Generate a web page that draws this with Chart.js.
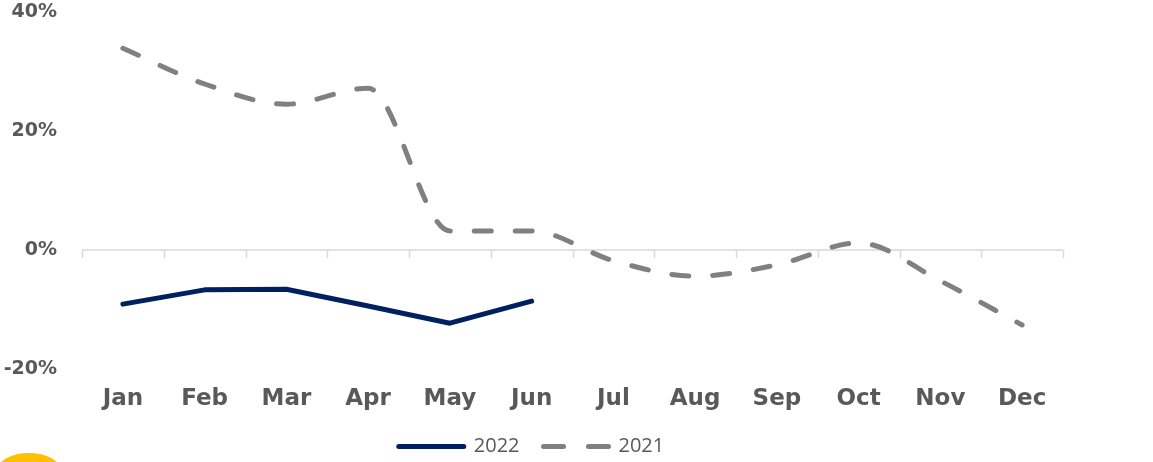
<!DOCTYPE html>
<html>
<head>
<meta charset="utf-8">
<script src="https://cdn.jsdelivr.net/npm/chart.js@4/dist/chart.umd.min.js"></script>
<style>
  html, body { margin: 0; padding: 0; background: #fff; }
  #contenedor { width: 1153px; height: 462px; position: relative; }
</style>
</head>
<body>
<div id="contenedor"><canvas id="lineaVariacion"></canvas></div>
<script>
// Variación interanual por mes (%)
var meses = ['Jan', 'Feb', 'Mar', 'Apr', 'May', 'Jun', 'Jul', 'Aug', 'Sep', 'Oct', 'Nov', 'Dec'];
var serie2022 = [-9.1, -6.7, -6.6, -9.4, -12.3, -8.6];
var serie2021 = [33.9, 27.9, 24.5, 27.2, 3.2, 3.2, -1.8, -4.4, -2.5, 1.2, -5.2, -12.6];
var ticksEje = [-20, 0, 20, 40];

var gris = '#595959';

// linea del cero con marcas entre meses
var lineaCero = {
    id: 'lineaCero',
    beforeDatasetsDraw: function(chart) {
        var ctx = chart.ctx;
        var x = chart.scales.x;
        var y0 = chart.scales.y.getPixelForValue(0);
        var paso = (x.right - x.left) / meses.length;
        ctx.save();
        ctx.strokeStyle = '#d9d9d9';
        ctx.lineWidth = 1.5;
        ctx.beginPath();
        ctx.moveTo(x.left, y0);
        ctx.lineTo(x.right, y0);
        for (var i = 0; i <= meses.length; i++) {
            var px = Math.round(x.left + i * paso) + 0.5;
            ctx.moveTo(px, y0);
            ctx.lineTo(px, y0 + 8);
        }
        ctx.stroke();
        ctx.restore();
    }
};

// trozo del logo abajo a la izquierda
var logo = {
    id: 'logo',
    afterDraw: function(chart) {
        var ctx = chart.ctx;
        ctx.save();
        ctx.fillStyle = '#FFC000';
        ctx.beginPath();
        ctx.ellipse(29, 471, 32, 18, 0, 0, Math.PI * 2);
        ctx.fill();
        ctx.restore();
    }
};

new Chart(document.getElementById('lineaVariacion'), {
    type: 'line',
    data: {
        labels: meses,
        datasets: [{
            label: '2022',
            data: serie2022,
            borderColor: '#002060',
            backgroundColor: '#002060',
            borderWidth: 5,
            borderCapStyle: 'round',
            borderJoinStyle: 'round',
            pointRadius: 0,
            tension: 0
        }, {
            label: '2021',
            data: serie2021,
            borderColor: '#808080',
            backgroundColor: '#808080',
            borderWidth: 5,
            borderDash: [17, 24],
            borderCapStyle: 'round',
            borderJoinStyle: 'round',
            pointRadius: 0,
            cubicInterpolationMode: 'monotone'
        }]
    },
    options: {
        responsive: true,
        maintainAspectRatio: false,
        animation: false,
        layout: { padding: { left: 0, right: 90, top: 12, bottom: 0 } },
        scales: {
            x: {
                offset: true,
                grid: { display: false, drawTicks: false },
                border: { display: false },
                ticks: {
                    color: gris,
                    padding: 16,
                    font: { family: 'DejaVu Sans', size: 23, weight: 'bold' }
                },
                afterFit: function(s) { s.height = 43.5; }
            },
            y: {
                min: -20,
                max: 40,
                afterBuildTicks: function(s) {
                    s.ticks = ticksEje.map(function(v) { return { value: v }; });
                },
                grid: { display: false, drawTicks: false },
                border: { display: false },
                ticks: {
                    color: gris,
                    padding: 25,
                    font: { family: 'DejaVu Sans', size: 19, weight: 'bold' },
                    callback: function(v) { return v + '%'; }
                },
                afterFit: function(s) {
                    s.width = 82;
                    s.paddingTop = 0;
                    s.paddingBottom = 0;
                }
            }
        },
        plugins: {
            tooltip: { enabled: false },
            legend: {
                position: 'bottom',
                maxHeight: 49.5,
                labels: {
                    usePointStyle: true,
                    pointStyle: 'line',
                    pointStyleWidth: 65,
                    padding: 24,
                    color: gris,
                    font: { family: 'Open Sans', size: 20 },
                    generateLabels: function(chart) {
                        var items = Chart.defaults.plugins.legend.labels.generateLabels(chart);
                        items.forEach(function(it) {
                            var ds = chart.data.datasets[it.datasetIndex];
                            it.lineCap = 'round';
                            it.lineDash = ds.borderDash ? [20, 25] : [];
                        });
                        return items;
                    }
                }
            }
        }
    },
    plugins: [lineaCero, logo]
});
</script>
</body>
</html>
